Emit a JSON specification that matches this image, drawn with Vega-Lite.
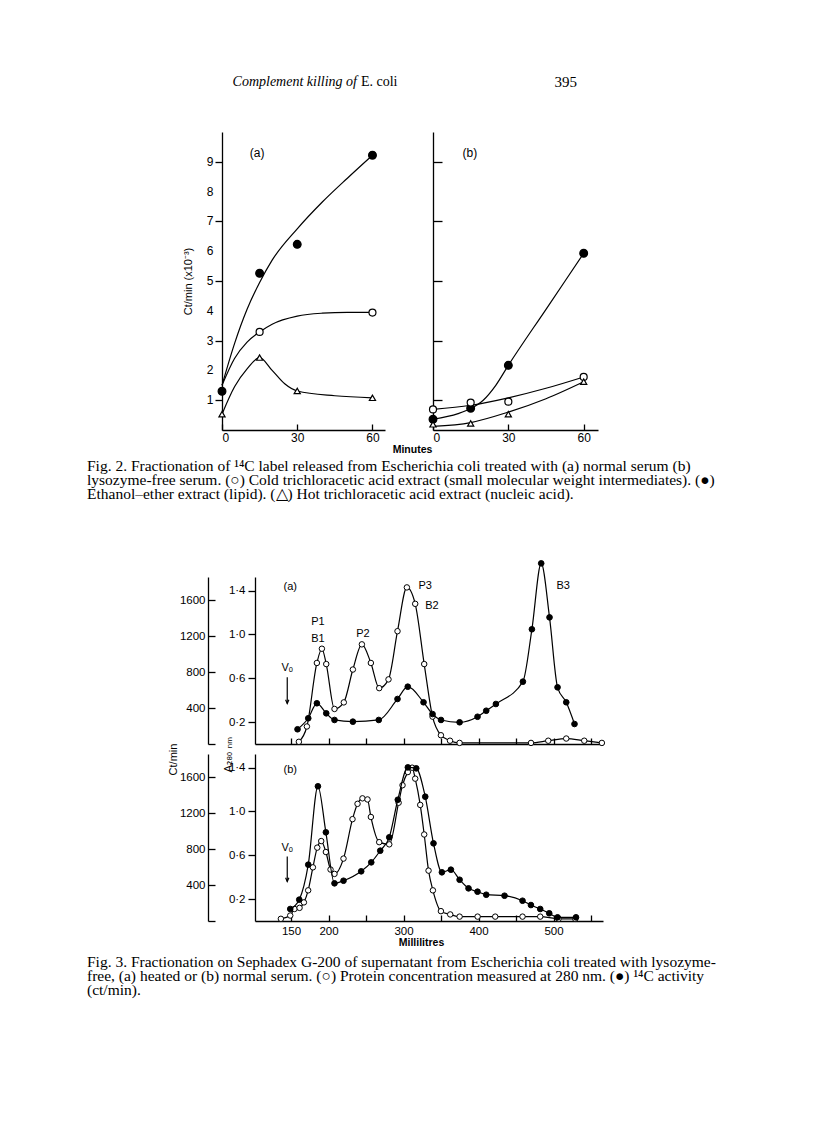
{
 "$schema": "https://vega.github.io/schema/vega-lite/v6.json",
 "padding": {"left": 87, "top": 72, "right": 0, "bottom": 0},
 "background": "white",
 "config": {
  "view": {"stroke": null},
  "axis": {"grid": false, "domainColor": "black", "tickColor": "black", "labelColor": "black", "titleColor": "black", "domainWidth": 1.3, "tickWidth": 1.3, "labelFont": "Liberation Sans", "titleFont": "Liberation Sans", "labelFontSize": 11.5, "titleFontWeight": "normal", "labelOverlap": false},
  "text": {"color": "black"}
 },
 "datasets": {
  "fig2ticks": [{"v":1},{"v":2},{"v":3},{"v":4},{"v":5},{"v":6},{"v":7},{"v":8},{"v":9}],
  "fig2points": [
   {"panel":"a","series":"ethanol-ether","minutes":0,"v":1.3},
   {"panel":"a","series":"ethanol-ether","minutes":15,"v":5.26},
   {"panel":"a","series":"ethanol-ether","minutes":30,"v":6.23},
   {"panel":"a","series":"ethanol-ether","minutes":60,"v":9.22},
   {"panel":"a","series":"cold TCA","minutes":15,"v":3.29},
   {"panel":"a","series":"cold TCA","minutes":60,"v":3.94},
   {"panel":"a","series":"hot TCA","minutes":0,"v":0.53},
   {"panel":"a","series":"hot TCA","minutes":15,"v":2.43},
   {"panel":"a","series":"hot TCA","minutes":30,"v":1.31},
   {"panel":"a","series":"hot TCA","minutes":60,"v":1.08},
   {"panel":"b","series":"ethanol-ether","minutes":0,"v":0.36},
   {"panel":"b","series":"ethanol-ether","minutes":15,"v":0.73},
   {"panel":"b","series":"ethanol-ether","minutes":30,"v":2.17},
   {"panel":"b","series":"ethanol-ether","minutes":60,"v":5.93},
   {"panel":"b","series":"cold TCA","minutes":0,"v":0.69},
   {"panel":"b","series":"cold TCA","minutes":15,"v":0.92},
   {"panel":"b","series":"cold TCA","minutes":30,"v":0.95},
   {"panel":"b","series":"cold TCA","minutes":60,"v":1.78},
   {"panel":"b","series":"hot TCA","minutes":0,"v":0.19},
   {"panel":"b","series":"hot TCA","minutes":15,"v":0.22},
   {"panel":"b","series":"hot TCA","minutes":30,"v":0.53},
   {"panel":"b","series":"hot TCA","minutes":60,"v":1.62}
  ],
  "fig2curves": [
   {"panel":"a","series":"ethanol-ether","minutes":0,"v":1.5},
   {"panel":"a","series":"ethanol-ether","minutes":5,"v":2.9},
   {"panel":"a","series":"ethanol-ether","minutes":10,"v":4.05},
   {"panel":"a","series":"ethanol-ether","minutes":15,"v":4.95},
   {"panel":"a","series":"ethanol-ether","minutes":20,"v":5.7},
   {"panel":"a","series":"ethanol-ether","minutes":30,"v":6.75},
   {"panel":"a","series":"ethanol-ether","minutes":40,"v":7.65},
   {"panel":"a","series":"ethanol-ether","minutes":50,"v":8.45},
   {"panel":"a","series":"ethanol-ether","minutes":60,"v":9.22},
   {"panel":"a","series":"cold TCA","minutes":0,"v":1.5},
   {"panel":"a","series":"cold TCA","minutes":5,"v":2.4},
   {"panel":"a","series":"cold TCA","minutes":10,"v":2.95},
   {"panel":"a","series":"cold TCA","minutes":15,"v":3.29},
   {"panel":"a","series":"cold TCA","minutes":20,"v":3.55},
   {"panel":"a","series":"cold TCA","minutes":30,"v":3.82},
   {"panel":"a","series":"cold TCA","minutes":40,"v":3.92},
   {"panel":"a","series":"cold TCA","minutes":50,"v":3.95},
   {"panel":"a","series":"cold TCA","minutes":60,"v":3.95},
   {"panel":"a","series":"hot TCA","minutes":0,"v":0.53},
   {"panel":"a","series":"hot TCA","minutes":5,"v":1.45},
   {"panel":"a","series":"hot TCA","minutes":10,"v":2.05},
   {"panel":"a","series":"hot TCA","minutes":15,"v":2.43},
   {"panel":"a","series":"hot TCA","minutes":20,"v":2.0},
   {"panel":"a","series":"hot TCA","minutes":25,"v":1.55},
   {"panel":"a","series":"hot TCA","minutes":30,"v":1.31},
   {"panel":"a","series":"hot TCA","minutes":45,"v":1.15},
   {"panel":"a","series":"hot TCA","minutes":60,"v":1.08},
   {"panel":"b","series":"ethanol-ether","minutes":0,"v":0.36},
   {"panel":"b","series":"ethanol-ether","minutes":10,"v":0.55},
   {"panel":"b","series":"ethanol-ether","minutes":15,"v":0.72},
   {"panel":"b","series":"ethanol-ether","minutes":20,"v":1.0},
   {"panel":"b","series":"ethanol-ether","minutes":25,"v":1.5},
   {"panel":"b","series":"ethanol-ether","minutes":30,"v":2.17},
   {"panel":"b","series":"ethanol-ether","minutes":45,"v":4.05},
   {"panel":"b","series":"ethanol-ether","minutes":60,"v":5.93},
   {"panel":"b","series":"cold TCA","minutes":0,"v":0.69},
   {"panel":"b","series":"cold TCA","minutes":15,"v":0.83},
   {"panel":"b","series":"cold TCA","minutes":30,"v":1.08},
   {"panel":"b","series":"cold TCA","minutes":45,"v":1.4},
   {"panel":"b","series":"cold TCA","minutes":60,"v":1.78},
   {"panel":"b","series":"hot TCA","minutes":0,"v":0.12},
   {"panel":"b","series":"hot TCA","minutes":15,"v":0.25},
   {"panel":"b","series":"hot TCA","minutes":30,"v":0.6},
   {"panel":"b","series":"hot TCA","minutes":45,"v":1.05},
   {"panel":"b","series":"hot TCA","minutes":60,"v":1.62}
  ],
  "protein": [
   {"panel":"a","ml":160.5,"a280":0.02},{"panel":"a","ml":171.2,"a280":0.16},{"panel":"a","ml":184.5,"a280":0.74},
   {"panel":"a","ml":191.2,"a280":0.87},{"panel":"a","ml":197,"a280":0.73},{"panel":"a","ml":208,"a280":0.32},
   {"panel":"a","ml":220.4,"a280":0.38},{"panel":"a","ml":232.5,"a280":0.68},{"panel":"a","ml":244.5,"a280":0.91},
   {"panel":"a","ml":256.5,"a280":0.74},{"panel":"a","ml":267.6,"a280":0.51},{"panel":"a","ml":280,"a280":0.59},
   {"panel":"a","ml":292,"a280":1.03},{"panel":"a","ml":304.5,"a280":1.43},{"panel":"a","ml":315.6,"a280":1.28},
   {"panel":"a","ml":327.6,"a280":0.73},{"panel":"a","ml":338.7,"a280":0.25},{"panel":"a","ml":349.9,"a280":0.08},
   {"panel":"a","ml":362,"a280":0.03},{"panel":"a","ml":374.8,"a280":0.01},{"panel":"a","ml":470,"a280":0.01},
   {"panel":"a","ml":493,"a280":0.03},{"panel":"a","ml":517,"a280":0.05},{"panel":"a","ml":541,"a280":0.03},
   {"panel":"a","ml":564.5,"a280":0.01},
   {"panel":"b","ml":136.5,"a280":0.02},{"panel":"b","ml":149,"a280":0.05},{"panel":"b","ml":154.7,"a280":0.11},
   {"panel":"b","ml":161.4,"a280":0.12},{"panel":"b","ml":167.2,"a280":0.17},{"panel":"b","ml":172.9,"a280":0.28},
   {"panel":"b","ml":179.2,"a280":0.49},{"panel":"b","ml":185,"a280":0.67},{"panel":"b","ml":190.3,"a280":0.73},
   {"panel":"b","ml":196.5,"a280":0.63},{"panel":"b","ml":202.7,"a280":0.47},{"panel":"b","ml":208,"a280":0.43},
   {"panel":"b","ml":220,"a280":0.57},{"panel":"b","ml":232,"a280":0.93},{"panel":"b","ml":238.7,"a280":1.07},
   {"panel":"b","ml":245.3,"a280":1.12},{"panel":"b","ml":252,"a280":1.11},{"panel":"b","ml":256.5,"a280":0.95},
   {"panel":"b","ml":267.6,"a280":0.72},{"panel":"b","ml":281,"a280":0.7},{"panel":"b","ml":293.5,"a280":1.08},
   {"panel":"b","ml":298.7,"a280":1.24},{"panel":"b","ml":305.8,"a280":1.36},{"panel":"b","ml":311.5,"a280":1.4},
   {"panel":"b","ml":315.6,"a280":1.3},{"panel":"b","ml":322.3,"a280":1.06},{"panel":"b","ml":327.6,"a280":0.79},
   {"panel":"b","ml":333.4,"a280":0.46},{"panel":"b","ml":339.2,"a280":0.28},{"panel":"b","ml":349.9,"a280":0.09},
   {"panel":"b","ml":362.3,"a280":0.06},{"panel":"b","ml":374.8,"a280":0.04},{"panel":"b","ml":398.8,"a280":0.04},
   {"panel":"b","ml":422.3,"a280":0.04},{"panel":"b","ml":458.7,"a280":0.04},{"panel":"b","ml":482.3,"a280":0.04},
   {"panel":"b","ml":506.7,"a280":0.02},{"panel":"b","ml":529,"a280":0.02}
  ],
  "activity": [
   {"panel":"a","ml":158.7,"ct":164},{"panel":"a","ml":173,"ct":287},{"panel":"a","ml":184.5,"ct":454},
   {"panel":"a","ml":197,"ct":342},{"panel":"a","ml":208,"ct":268},{"panel":"a","ml":232.5,"ct":249},
   {"panel":"a","ml":267,"ct":268},{"panel":"a","ml":292,"ct":502},{"panel":"a","ml":305.7,"ct":639},
   {"panel":"a","ml":326.7,"ct":465},{"panel":"a","ml":338.7,"ct":334},{"panel":"a","ml":350,"ct":268},
   {"panel":"a","ml":374.8,"ct":242},{"panel":"a","ml":398.7,"ct":304},{"panel":"a","ml":410.3,"ct":371},
   {"panel":"a","ml":423.2,"ct":446},{"panel":"a","ml":459.2,"ct":695},{"panel":"a","ml":471.2,"ct":1279},
   {"panel":"a","ml":483.6,"ct":2014},{"panel":"a","ml":494.7,"ct":1412},{"panel":"a","ml":505.4,"ct":632},
   {"panel":"a","ml":517,"ct":465},{"panel":"a","ml":528,"ct":223},
   {"panel":"b","ml":149,"ct":134},{"panel":"b","ml":161,"ct":238},{"panel":"b","ml":173,"ct":628},
   {"panel":"b","ml":185.9,"ct":1502},{"panel":"b","ml":196.5,"ct":989},{"panel":"b","ml":208,"ct":420},
   {"panel":"b","ml":220,"ct":449},{"panel":"b","ml":243.6,"ct":554},{"panel":"b","ml":257,"ct":654},
   {"panel":"b","ml":269,"ct":784},{"panel":"b","ml":281,"ct":933},{"panel":"b","ml":292.4,"ct":1352},
   {"panel":"b","ml":305.8,"ct":1713},{"panel":"b","ml":317,"ct":1702},{"panel":"b","ml":329,"ct":1386},
   {"panel":"b","ml":340,"ct":866},{"panel":"b","ml":351.2,"ct":543},{"panel":"b","ml":363.2,"ct":572},
   {"panel":"b","ml":374.8,"ct":460},{"panel":"b","ml":386.7,"ct":364},{"panel":"b","ml":398.7,"ct":327},
   {"panel":"b","ml":410.3,"ct":293},{"panel":"b","ml":434.7,"ct":282},{"panel":"b","ml":458.7,"ct":226},
   {"panel":"b","ml":469.9,"ct":178},{"panel":"b","ml":482.3,"ct":134},{"panel":"b","ml":494.3,"ct":86},
   {"panel":"b","ml":505.4,"ct":41},{"panel":"b","ml":530,"ct":41}
  ],
  "caption2": [
   {"line":1,"text":"Fig. 2. Fractionation of ¹⁴C label released from Escherichia coli treated with (a) normal serum (b)"},
   {"line":2,"text":"lysozyme-free serum. (○) Cold trichloracetic acid extract (small molecular weight intermediates). (●)"},
   {"line":3,"text":"Ethanol–ether extract (lipid). (△) Hot trichloracetic acid extract (nucleic acid)."}
  ],
  "caption3": [
   {"line":1,"text":"Fig. 3. Fractionation on Sephadex G-200 of supernatant from Escherichia coli treated with lysozyme-"},
   {"line":2,"text":"free, (a) heated or (b) normal serum. (○) Protein concentration measured at 280 nm. (●) ¹⁴C activity"},
   {"line":3,"text":"(ct/min)."}
  ],
  "one": [{}]
 },
 "spacing": 39,
 "vconcat": [
  {
   "width": 490, "height": 20,
   "layer": [
    {"data": {"values": [{"t": "Complement killing of"}]},
     "mark": {"type": "text", "align": "right", "baseline": "middle", "font": "Liberation Serif", "fontStyle": "italic", "fontSize": 14},
     "encoding": {"x": {"datum": 0.551, "type": "quantitative", "scale": {"domain": [0, 1]}, "axis": null}, "text": {"field": "t"}}},
    {"data": {"values": [{"t": "E. coli"}]},
     "mark": {"type": "text", "align": "left", "baseline": "middle", "font": "Liberation Serif", "fontSize": 14},
     "encoding": {"x": {"datum": 0.559, "type": "quantitative", "axis": null}, "text": {"field": "t"}}},
    {"data": {"values": [{"t": "395"}]},
     "mark": {"type": "text", "align": "right", "baseline": "middle", "font": "Liberation Serif", "fontSize": 15},
     "encoding": {"x": {"datum": 1, "type": "quantitative", "axis": null}, "text": {"field": "t"}}}
   ]
  },
  {
   "spacing": 4,
   "vconcat": [
    {
     "spacing": -6,
     "hconcat": [
      {"width": 101, "height": 10, "data": {"name": "one"}, "mark": "text", "encoding": {"text": {"value": ""}}},
      {
       "width": 163, "height": 298,
       "layer": [
        {"data": {"name": "fig2curves"}, "transform": [{"filter": "datum.panel === 'a'"}],
         "mark": {"type": "line", "interpolate": "monotone", "color": "black", "strokeWidth": 1.2},
         "encoding": {
          "x": {"field": "minutes", "type": "quantitative", "scale": {"domain": [0, 65], "nice": false},
                "axis": {"values": [0, 30, 60], "tickSize": -6, "labelPadding": 8.5, "labelFontSize": 12, "title": "Minutes", "titleX": 190, "titleY": 19, "titleAlign": "center", "titleBaseline": "middle", "titleFontSize": 10.5, "titleFontWeight": "bold"}},
          "y": {"field": "v", "type": "quantitative", "scale": {"domain": [0, 10], "nice": false},
                "axis": {"values": [1, 2, 3, 4, 5, 6, 7, 8, 9], "labels": false, "tickSize": 7, "title": "Ct/min (x10⁻³)", "titleFontSize": 11, "titlePadding": 21}},
          "detail": {"field": "series"}
         }},
        {"data": {"name": "fig2ticks"},
         "mark": {"type": "text", "align": "right", "baseline": "middle", "font": "Liberation Sans", "fontSize": 12},
         "encoding": {
          "x": {"datum": -3.4, "type": "quantitative"},
          "y": {"field": "v", "type": "quantitative"},
          "text": {"field": "v", "type": "quantitative", "format": "d"}
         }},
        {"data": {"name": "fig2points"}, "transform": [{"filter": "datum.panel === 'a'"}],
         "mark": {"type": "point", "filled": true, "stroke": "black", "strokeWidth": 1.2, "opacity": 1},
         "encoding": {
          "x": {"field": "minutes", "type": "quantitative"},
          "y": {"field": "v", "type": "quantitative"},
          "shape": {"field": "series", "scale": {"domain": ["ethanol-ether", "cold TCA", "hot TCA"], "range": ["circle", "circle", "triangle-up"]}, "legend": null},
          "fill": {"field": "series", "scale": {"domain": ["ethanol-ether", "cold TCA", "hot TCA"], "range": ["black", "white", "white"]}, "legend": null},
          "size": {"field": "series", "scale": {"domain": ["ethanol-ether", "cold TCA", "hot TCA"], "range": [60, 38, 60]}, "legend": null}
         }},
        {"data": {"name": "one"},
         "mark": {"type": "text", "font": "Liberation Sans", "fontSize": 12, "align": "center", "baseline": "middle"},
         "encoding": {"x": {"datum": 14, "type": "quantitative"}, "y": {"datum": 9.3, "type": "quantitative"}, "text": {"value": "(a)"}}}
       ]
      },
      {
       "width": 165, "height": 298,
       "layer": [
        {"data": {"name": "fig2curves"}, "transform": [{"filter": "datum.panel === 'b'"}],
         "mark": {"type": "line", "interpolate": "monotone", "color": "black", "strokeWidth": 1.2},
         "encoding": {
          "x": {"field": "minutes", "type": "quantitative", "scale": {"domain": [0, 65.7], "nice": false},
                "axis": {"values": [0, 30, 60], "tickSize": -6, "labelPadding": 8.5, "labelFontSize": 12, "title": null}},
          "y": {"field": "v", "type": "quantitative", "scale": {"domain": [0, 10], "nice": false},
                "axis": {"values": [1, 2, 3, 4, 5, 6, 7, 8, 9], "tickSize": -9, "labels": false, "title": null}},
          "detail": {"field": "series"}
         }},
        {"data": {"name": "fig2points"}, "transform": [{"filter": "datum.panel === 'b'"}],
         "mark": {"type": "point", "filled": true, "stroke": "black", "strokeWidth": 1.2, "opacity": 1},
         "encoding": {
          "x": {"field": "minutes", "type": "quantitative"},
          "y": {"field": "v", "type": "quantitative"},
          "shape": {"field": "series", "scale": {"domain": ["ethanol-ether", "cold TCA", "hot TCA"], "range": ["circle", "circle", "triangle-up"]}, "legend": null},
          "fill": {"field": "series", "scale": {"domain": ["ethanol-ether", "cold TCA", "hot TCA"], "range": ["black", "white", "white"]}, "legend": null},
          "size": {"field": "series", "scale": {"domain": ["ethanol-ether", "cold TCA", "hot TCA"], "range": [60, 50, 60]}, "legend": null}
         }},
        {"data": {"name": "one"},
         "mark": {"type": "text", "font": "Liberation Sans", "fontSize": 12, "align": "center", "baseline": "middle"},
         "encoding": {"x": {"datum": 14.7, "type": "quantitative"}, "y": {"datum": 9.3, "type": "quantitative"}, "text": {"value": "(b)"}}}
       ]
      }
     ]
    },
    {
     "spacing": 55,
     "vconcat": [
      {
       "width": 640, "height": 42,
       "data": {"name": "caption2"},
       "mark": {"type": "text", "align": "left", "baseline": "middle", "font": "Liberation Serif", "fontSize": 15.5},
       "encoding": {
        "x": {"datum": 0, "type": "quantitative", "scale": {"domain": [0, 1]}, "axis": null},
        "y": {"field": "line", "type": "ordinal", "axis": null},
        "text": {"field": "text"}
       }
      },
      {
       "spacing": 7,
       "vconcat": [
        {
         "spacing": 0,
         "hconcat": [
          {"width": 80, "height": 10, "data": {"name": "one"}, "mark": "text", "encoding": {"text": {"value": ""}}},
          {
           "spacing": -14,
           "vconcat": [
            {
             "width": 348, "height": 167,
             "resolve": {"scale": {"y": "independent"}, "axis": {"y": "independent"}},
             "layer": [
              {
               "layer": [
                {"data": {"name": "protein"}, "transform": [{"filter": "datum.panel === 'a'"}],
                 "mark": {"type": "line", "interpolate": "monotone", "color": "black", "strokeWidth": 1.2},
                 "encoding": {
                  "x": {"field": "ml", "type": "quantitative", "scale": {"domain": [102, 566], "nice": false, "zero": false},
                        "axis": {"values": [150, 200, 250, 300, 350, 400, 450, 500, 550], "tickSize": -6, "labels": false, "title": null}},
                  "y": {"field": "a280", "type": "quantitative", "scale": {"domain": [0, 1.525], "nice": false},
                        "axis": {"values": [0.2, 0.4, 0.6, 0.8, 1.0, 1.2, 1.4], "tickSize": 7, "labelPadding": 3, "labelFontSize": 11.5,
                                 "labelExpr": "indexof(['0.2','0.6','1.0','1.4'], format(datum.value, '.1f')) >= 0 ? replace(format(datum.value, '.1f'), '.', '·') : ''", "title": null}}
                 }},
                {"data": {"name": "protein"}, "transform": [{"filter": "datum.panel === 'a'"}],
                 "mark": {"type": "point", "filled": true, "fill": "white", "stroke": "black", "strokeWidth": 1, "size": 30, "opacity": 1},
                 "encoding": {
                  "x": {"field": "ml", "type": "quantitative"},
                  "y": {"field": "a280", "type": "quantitative"}
                 }},
                {"data": {"values": [
                   {"label": "(a)", "ml": 149, "a280": 1.43},
                   {"label": "P1", "ml": 186, "a280": 1.11},
                   {"label": "B1", "ml": 186, "a280": 0.96},
                   {"label": "P2", "ml": 246, "a280": 1.0},
                   {"label": "Vₒ", "ml": 145, "a280": 0.69},
                   {"label": "P3", "ml": 329, "a280": 1.44},
                   {"label": "B2", "ml": 338, "a280": 1.26},
                   {"label": "B3", "ml": 513, "a280": 1.44}
                 ]},
                 "mark": {"type": "text", "font": "Liberation Sans", "fontSize": 11, "align": "center", "baseline": "middle"},
                 "encoding": {
                  "x": {"field": "ml", "type": "quantitative"},
                  "y": {"field": "a280", "type": "quantitative"},
                  "text": {"field": "label"}
                 }},
                {"data": {"name": "one"},
                 "mark": {"type": "rule", "color": "black", "strokeWidth": 1.2},
                 "encoding": {
                  "x": {"datum": 145, "type": "quantitative"},
                  "y": {"datum": 0.61, "type": "quantitative"},
                  "y2": {"datum": 0.37}
                 }},
                {"data": {"name": "one"},
                 "mark": {"type": "point", "shape": "M-0.6,-1.4L0,0L0.6,-1.4", "filled": false, "stroke": "black", "strokeWidth": 1.2, "size": 30, "opacity": 1},
                 "encoding": {
                  "x": {"datum": 145, "type": "quantitative"},
                  "y": {"datum": 0.37, "type": "quantitative"}
                 }}
               ]
              },
              {
               "layer": [
                {"data": {"name": "activity"}, "transform": [{"filter": "datum.panel === 'a'"}],
                 "mark": {"type": "line", "interpolate": "monotone", "color": "black", "strokeWidth": 1.2},
                 "encoding": {
                  "x": {"field": "ml", "type": "quantitative"},
                  "y": {"field": "ct", "type": "quantitative", "scale": {"domain": [0, 1862], "nice": false},
                        "axis": {"orient": "left", "offset": 47, "values": [0, 200, 400, 600, 800, 1000, 1200, 1400, 1600, 1800], "tickSize": -7, "labelPadding": 10, "labelFontSize": 11.5,
                                 "labelExpr": "indexof([400, 800, 1200, 1600], datum.value) >= 0 ? format(datum.value, 'd') : ''", "title": null}}
                 }},
                {"data": {"name": "activity"}, "transform": [{"filter": "datum.panel === 'a'"}],
                 "mark": {"type": "point", "filled": true, "fill": "black", "stroke": "black", "strokeWidth": 1, "size": 32, "opacity": 1},
                 "encoding": {
                  "x": {"field": "ml", "type": "quantitative"},
                  "y": {"field": "ct", "type": "quantitative"}
                 }}
               ]
              }
             ]
            },
            {
             "width": 348, "height": 167,
             "resolve": {"scale": {"y": "independent"}, "axis": {"y": "independent"}},
             "layer": [
              {
               "layer": [
                {"data": {"name": "protein"}, "transform": [{"filter": "datum.panel === 'b'"}],
                 "mark": {"type": "line", "interpolate": "monotone", "color": "black", "strokeWidth": 1.2},
                 "encoding": {
                  "x": {"field": "ml", "type": "quantitative", "scale": {"domain": [102, 566], "nice": false, "zero": false},
                        "axis": {"values": [150, 200, 250, 300, 350, 400, 450, 500, 550], "tickSize": -6, "labelPadding": 10, "labelFontSize": 11.5,
                                 "labelExpr": "indexof([150, 200, 300, 400, 500], datum.value) >= 0 ? format(datum.value, 'd') : ''",
                                 "title": "Millilitres", "titleFontSize": 10.5, "titleFontWeight": "bold", "titleX": 166, "titleY": 21, "titleBaseline": "middle", "titleAlign": "center"}},
                  "y": {"field": "a280", "type": "quantitative", "scale": {"domain": [0, 1.525], "nice": false},
                        "axis": {"values": [0.2, 0.4, 0.6, 0.8, 1.0, 1.2, 1.4], "tickSize": 7, "labelPadding": 3, "labelFontSize": 11.5,
                                 "labelExpr": "indexof(['0.2','0.6','1.0','1.4'], format(datum.value, '.1f')) >= 0 ? replace(format(datum.value, '.1f'), '.', '·') : ''",
                                 "title": "A₂₈₀ ₙₘ", "titleFont": "DejaVu Sans", "titleFontSize": 11, "titleX": -27, "titleY": 18, "titleAlign": "left", "titleBaseline": "middle", "titleAngle": -90}}
                 }},
                {"data": {"name": "protein"}, "transform": [{"filter": "datum.panel === 'b'"}],
                 "mark": {"type": "point", "filled": true, "fill": "white", "stroke": "black", "strokeWidth": 1, "size": 30, "opacity": 1},
                 "encoding": {
                  "x": {"field": "ml", "type": "quantitative"},
                  "y": {"field": "a280", "type": "quantitative"}
                 }},
                {"data": {"values": [
                   {"label": "(b)", "ml": 149, "a280": 1.38},
                   {"label": "Vₒ", "ml": 145, "a280": 0.67}
                 ]},
                 "mark": {"type": "text", "font": "Liberation Sans", "fontSize": 11, "align": "center", "baseline": "middle"},
                 "encoding": {
                  "x": {"field": "ml", "type": "quantitative"},
                  "y": {"field": "a280", "type": "quantitative"},
                  "text": {"field": "label"}
                 }},
                {"data": {"name": "one"},
                 "mark": {"type": "rule", "color": "black", "strokeWidth": 1.2},
                 "encoding": {
                  "x": {"datum": 145, "type": "quantitative"},
                  "y": {"datum": 0.59, "type": "quantitative"},
                  "y2": {"datum": 0.36}
                 }},
                {"data": {"name": "one"},
                 "mark": {"type": "point", "shape": "M-0.6,-1.4L0,0L0.6,-1.4", "filled": false, "stroke": "black", "strokeWidth": 1.2, "size": 30, "opacity": 1},
                 "encoding": {
                  "x": {"datum": 145, "type": "quantitative"},
                  "y": {"datum": 0.36, "type": "quantitative"}
                 }}
               ]
              },
              {
               "layer": [
                {"data": {"name": "activity"}, "transform": [{"filter": "datum.panel === 'b'"}],
                 "mark": {"type": "line", "interpolate": "monotone", "color": "black", "strokeWidth": 1.2},
                 "encoding": {
                  "x": {"field": "ml", "type": "quantitative"},
                  "y": {"field": "ct", "type": "quantitative", "scale": {"domain": [0, 1862], "nice": false},
                        "axis": {"orient": "left", "offset": 47, "values": [0, 200, 400, 600, 800, 1000, 1200, 1400, 1600, 1800], "tickSize": -7, "labelPadding": 10, "labelFontSize": 11.5,
                                 "labelExpr": "indexof([400, 800, 1200, 1600], datum.value) >= 0 ? format(datum.value, 'd') : ''",
                                 "title": "Ct/min", "titleX": -35, "titleY": 5, "titleAlign": "center", "titleBaseline": "middle", "titleAngle": -90, "titleFontSize": 11}}
                 }},
                {"data": {"name": "activity"}, "transform": [{"filter": "datum.panel === 'b'"}],
                 "mark": {"type": "point", "filled": true, "fill": "black", "stroke": "black", "strokeWidth": 1, "size": 32, "opacity": 1},
                 "encoding": {
                  "x": {"field": "ml", "type": "quantitative"},
                  "y": {"field": "ct", "type": "quantitative"}
                 }}
               ]
              }
             ]
            }
           ]
          }
         ]
        },
        {
         "width": 640, "height": 42,
         "data": {"name": "caption3"},
         "mark": {"type": "text", "align": "left", "baseline": "middle", "font": "Liberation Serif", "fontSize": 15.5},
         "encoding": {
          "x": {"datum": 0, "type": "quantitative", "scale": {"domain": [0, 1]}, "axis": null},
          "y": {"field": "line", "type": "ordinal", "axis": null},
          "text": {"field": "text"}
         }
        }
       ]
      }
     ]
    }
   ]
  }
 ]
}
